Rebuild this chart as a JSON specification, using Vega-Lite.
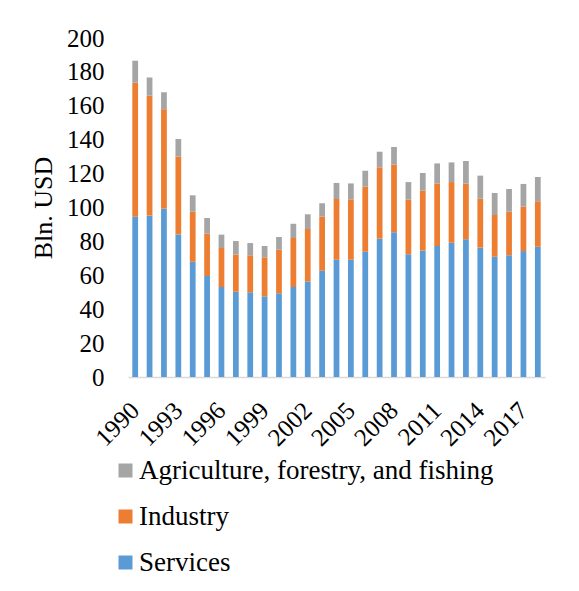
{
  "$schema": "https://vega.github.io/schema/vega-lite/v6.json",
  "width": 417,
  "height": 339,
  "autosize": {"type": "none"},
  "padding": {"left": 128, "top": 38, "right": 34, "bottom": 214},
  "background": "white",
  "data": {
    "values": [
      {"year": 1990, "Services": 94.6, "Industry": 79.0, "Agri": 13.0},
      {"year": 1991, "Services": 95.2, "Industry": 70.8, "Agri": 10.7},
      {"year": 1992, "Services": 99.3, "Industry": 58.7, "Agri": 10.0},
      {"year": 1993, "Services": 84.1, "Industry": 45.9, "Agri": 10.4},
      {"year": 1994, "Services": 68.0, "Industry": 29.5, "Agri": 9.7},
      {"year": 1995, "Services": 59.6, "Industry": 25.1, "Agri": 9.1},
      {"year": 1996, "Services": 53.1, "Industry": 23.0, "Agri": 7.9},
      {"year": 1997, "Services": 50.3, "Industry": 21.9, "Agri": 8.0},
      {"year": 1998, "Services": 50.0, "Industry": 21.8, "Agri": 7.2},
      {"year": 1999, "Services": 47.6, "Industry": 23.0, "Agri": 6.7},
      {"year": 2000, "Services": 49.4, "Industry": 25.7, "Agri": 7.5},
      {"year": 2001, "Services": 53.1, "Industry": 28.9, "Agri": 8.4},
      {"year": 2002, "Services": 56.4, "Industry": 30.9, "Agri": 8.7},
      {"year": 2003, "Services": 62.7, "Industry": 31.9, "Agri": 7.9},
      {"year": 2004, "Services": 69.2, "Industry": 35.8, "Agri": 9.5},
      {"year": 2005, "Services": 69.2, "Industry": 35.6, "Agri": 9.4},
      {"year": 2006, "Services": 73.9, "Industry": 38.4, "Agri": 9.4},
      {"year": 2007, "Services": 81.6, "Industry": 42.1, "Agri": 9.2},
      {"year": 2008, "Services": 85.4, "Industry": 39.9, "Agri": 10.4},
      {"year": 2009, "Services": 72.4, "Industry": 32.2, "Agri": 10.4},
      {"year": 2010, "Services": 74.7, "Industry": 35.2, "Agri": 10.5},
      {"year": 2011, "Services": 77.3, "Industry": 36.9, "Agri": 11.8},
      {"year": 2012, "Services": 79.2, "Industry": 35.8, "Agri": 11.6},
      {"year": 2013, "Services": 81.2, "Industry": 33.0, "Agri": 13.2},
      {"year": 2014, "Services": 76.3, "Industry": 28.9, "Agri": 13.6},
      {"year": 2015, "Services": 71.0, "Industry": 24.6, "Agri": 13.0},
      {"year": 2016, "Services": 71.8, "Industry": 25.7, "Agri": 13.4},
      {"year": 2017, "Services": 74.3, "Industry": 26.2, "Agri": 13.4},
      {"year": 2018, "Services": 76.9, "Industry": 26.8, "Agri": 14.3}
    ]
  },
  "transform": [
    {"fold": ["Services", "Industry", "Agri"], "as": ["key", "value"]},
    {"calculate": "datum.key === 'Agri' ? 'Agriculture, forestry, and fishing' : datum.key", "as": "sector"}
  ],
  "mark": {"type": "bar"},
  "encoding": {
    "x": {
      "field": "year",
      "type": "ordinal",
      "scale": {"paddingInner": 0.6, "paddingOuter": 0.3},
      "axis": {
        "title": null,
        "values": [1990, 1993, 1996, 1999, 2002, 2005, 2008, 2011, 2014, 2017],
        "labelAngle": -45,
        "labelAlign": "right",
        "labelBaseline": "middle",
        "labelFont": "Liberation Serif",
        "labelFontSize": 25,
        "labelColor": "black",
        "labelPadding": 29,
        "ticks": false,
        "domainColor": "#d9d9d9",
        "domainWidth": 1.5,
        "grid": false
      }
    },
    "y": {
      "field": "value",
      "type": "quantitative",
      "stack": "zero",
      "scale": {"domain": [0, 200], "nice": false},
      "axis": {
        "title": "Bln. USD",
        "titleFont": "Liberation Serif",
        "titleFontSize": 26,
        "titleFontWeight": "normal",
        "titleColor": "black",
        "titlePadding": 10,
        "values": [0, 20, 40, 60, 80, 100, 120, 140, 160, 180, 200],
        "labelFont": "Liberation Serif",
        "labelFontSize": 25,
        "labelColor": "black",
        "labelPadding": 24,
        "ticks": false,
        "domain": false,
        "grid": false
      }
    },
    "color": {
      "field": "sector",
      "type": "nominal",
      "scale": {
        "domain": ["Agriculture, forestry, and fishing", "Industry", "Services"],
        "range": ["#A5A5A5", "#ED7D31", "#5B9BD5"]
      },
      "legend": {
        "title": null,
        "orient": "none",
        "legendX": -16,
        "legendY": 419,
        "padding": 0,
        "direction": "vertical",
        "symbolType": "square",
        "symbolSize": 196,
        "symbolStrokeWidth": 0,
        "labelFont": "Liberation Serif",
        "labelFontSize": 27,
        "labelColor": "black",
        "labelOffset": 0,
        "rowPadding": 18,
        "labelLimit": 500
      }
    },
    "order": {"field": "sector", "sort": "descending"}
  },
  "config": {
    "view": {"stroke": null}
  }
}
